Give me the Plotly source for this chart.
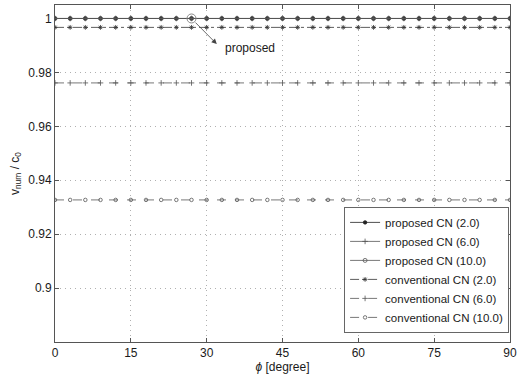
import plotly.graph_objects as go

phi = [0, 3, 6, 9, 12, 15, 18, 21, 24, 27, 30, 33, 36, 39, 42, 45, 48, 51, 54, 57, 60, 63, 66, 69, 72, 75, 78, 81, 84, 87, 90]

prop_2 = [1.0, 1.0, 1.0, 1.0, 1.0, 1.0, 1.0, 1.0, 1.0, 1.0, 1.0, 1.0, 1.0, 1.0, 1.0, 1.0,
          1.0, 1.0, 1.0, 1.0, 1.0, 1.0, 1.0, 1.0, 1.0, 1.0, 1.0, 1.0, 1.0, 1.0, 1.0]
prop_6 = [1.0, 1.0, 1.0, 1.0, 1.0, 1.0, 1.0, 1.0, 1.0, 1.0, 1.0, 1.0, 1.0, 1.0, 1.0, 1.0,
          1.0, 1.0, 1.0, 1.0, 1.0, 1.0, 1.0, 1.0, 1.0, 1.0, 1.0, 1.0, 1.0, 1.0, 1.0]
prop_10 = [1.0, 1.0, 1.0, 1.0, 1.0, 1.0, 1.0, 1.0, 1.0, 1.0, 1.0, 1.0, 1.0, 1.0, 1.0, 1.0,
           1.0, 1.0, 1.0, 1.0, 1.0, 1.0, 1.0, 1.0, 1.0, 1.0, 1.0, 1.0, 1.0, 1.0, 1.0]
conv_2 = [0.9967, 0.9967, 0.9967, 0.9967, 0.9967, 0.9967, 0.9967, 0.9967, 0.9967, 0.9967, 0.9967,
          0.9967, 0.9967, 0.9967, 0.9967, 0.9967, 0.9967, 0.9967, 0.9967, 0.9967, 0.9967, 0.9967,
          0.9967, 0.9967, 0.9967, 0.9967, 0.9967, 0.9967, 0.9967, 0.9967, 0.9967]
conv_6 = [0.9761, 0.9761, 0.9761, 0.9761, 0.9761, 0.9761, 0.9761, 0.9761, 0.9761, 0.9761, 0.9761,
          0.9761, 0.9761, 0.9761, 0.9761, 0.9761, 0.9761, 0.9761, 0.9761, 0.9761, 0.9761, 0.9761,
          0.9761, 0.9761, 0.9761, 0.9761, 0.9761, 0.9761, 0.9761, 0.9761, 0.9761]
conv_10 = [0.9327, 0.9327, 0.9327, 0.9327, 0.9327, 0.9327, 0.9327, 0.9327, 0.9327, 0.9327, 0.9327,
           0.9327, 0.9327, 0.9327, 0.9327, 0.9327, 0.9327, 0.9327, 0.9327, 0.9327, 0.9327, 0.9327,
           0.9327, 0.9327, 0.9327, 0.9327, 0.9327, 0.9327, 0.9327, 0.9327, 0.9327]

x_ticks = [0, 15, 30, 45, 60, 75, 90]
y_ticks = [0.9, 0.92, 0.94, 0.96, 0.98, 1.0]
y_tick_labels = ["0.9", "0.92", "0.94", "0.96", "0.98", "1"]

highlight_phi = [27]
highlight_val = [1.0]

ink = "#1a1a1a"
grid = "#b0b0b0"

series = [
    ("proposed CN (2.0)", prop_2, "solid", "circle", "#222222", 3.5),
    ("proposed CN (6.0)", prop_6, "solid", "cross-thin-open", "#555555", 4),
    ("proposed CN (10.0)", prop_10, "solid", "circle-open", "#555555", 4),
    ("conventional CN (2.0)", conv_2, "dashdot", "asterisk-open", "#333333", 4),
    ("conventional CN (6.0)", conv_6, "dash", "cross-thin-open", "#555555", 4),
    ("conventional CN (10.0)", conv_10, "dash", "circle-open", "#555555", 3.5),
]

fig = go.Figure()
for name, vals, dash, sym, col, ms in series:
    fig.add_trace(go.Scatter(
        x=phi, y=vals, name=name, mode="lines+markers",
        line=dict(color=col, width=0.8, dash=dash),
        marker=dict(symbol=sym, size=ms, color=col, line=dict(color=col, width=0.8)),
    ))

fig.add_trace(go.Scatter(
    x=highlight_phi, y=highlight_val, mode="markers", showlegend=False,
    marker=dict(symbol="circle-open", size=9, color="#888888", line=dict(color="#888888", width=1)),
))

fig.add_annotation(x=32.0, y=0.9905, ax=27.2, ay=0.9996, axref="x", ayref="y",
                   xref="x", yref="y", text=" ", showarrow=True,
                   arrowhead=2, arrowsize=1.3, arrowwidth=0.8, arrowcolor="#444444")
fig.add_annotation(x=33.3, y=0.9892, xref="x", yref="y", text="proposed", showarrow=False,
                   xanchor="left", yanchor="middle", font=dict(size=12, color=ink))

axis_common = dict(
    showline=True, linecolor="#555555", linewidth=1, mirror="allticks",
    ticks="inside", ticklen=4, tickcolor="#555555",
    showgrid=True, gridcolor=grid, griddash="1px,4px", gridwidth=1,
    zeroline=False, tickfont=dict(size=12, color=ink),
)

fig.update_xaxes(range=[0, 90], tickvals=x_ticks,
                 title=dict(text="<i>ϕ</i> [degree]", font=dict(size=12, color=ink), standoff=2),
                 **axis_common)
fig.update_yaxes(range=[0.88, 1.005], tickvals=y_ticks, ticktext=y_tick_labels,
                 title=dict(text="v<sub>num</sub> / c<sub>0</sub>", font=dict(size=12, color=ink), standoff=6),
                 **axis_common)

fig.update_layout(
    width=521, height=377,
    margin=dict(l=55, r=9, t=4, b=35),
    paper_bgcolor="white", plot_bgcolor="white",
    font=dict(family="Liberation Sans, Arial, sans-serif", size=12, color=ink),
    legend=dict(x=0.998, y=0.027, xanchor="right", yanchor="bottom",
                bgcolor="white", bordercolor="#666666", borderwidth=1,
                font=dict(size=11.5, color=ink), tracegroupgap=0,
                itemwidth=30),
    showlegend=True,
)

fig.write_html("out.html")
